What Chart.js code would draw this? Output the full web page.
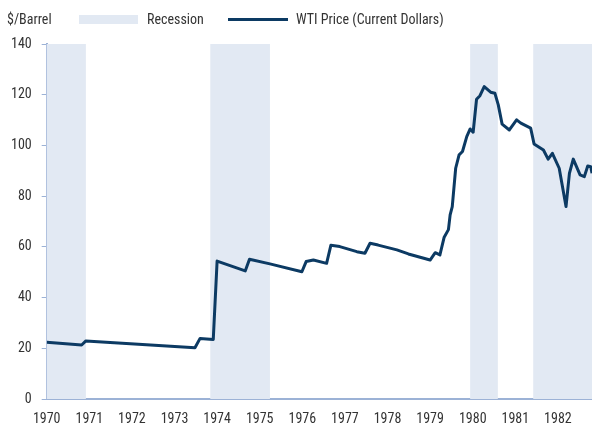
<!DOCTYPE html>
<html>
<head>
<meta charset="utf-8">
<script src="https://cdn.jsdelivr.net/npm/chart.js@4"></script>
<style>
html,body{margin:0;padding:0;background:#fff;}
#wrap{width:592px;height:424px;position:relative;}
</style>
</head>
<body>
<div id="wrap"><canvas id="c" width="592" height="424"></canvas></div>
<script>
const years = [1970.0, 1970.82, 1970.92, 1973.48, 1973.60, 1973.91, 1974.0, 1974.66, 1974.76, 1975.24, 1975.99, 1976.09, 1976.26, 1976.57, 1976.67, 1976.88, 1977.28, 1977.47, 1977.59, 1977.78, 1978.22, 1978.49, 1979.0, 1979.12, 1979.23, 1979.33, 1979.43, 1979.47, 1979.52, 1979.60, 1979.68, 1979.76, 1979.86, 1979.94, 1980.01, 1980.09, 1980.17, 1980.27, 1980.42, 1980.52, 1980.60, 1980.69, 1980.86, 1981.03, 1981.13, 1981.36, 1981.44, 1981.66, 1981.77, 1981.87, 1982.03, 1982.19, 1982.27, 1982.36, 1982.52, 1982.62, 1982.70, 1982.77, 1982.80];
const wtiPrice = [22.4, 21.3, 22.9, 20.2, 23.9, 23.5, 54.4, 50.5, 55.1, 53.3, 50.2, 54.2, 54.8, 53.5, 60.6, 60.1, 58.1, 57.5, 61.4, 60.7, 58.8, 57.2, 54.8, 57.7, 56.8, 63.8, 66.8, 72.6, 75.9, 91.0, 96.3, 97.6, 103.5, 106.5, 105.2, 118.2, 119.6, 123.2, 121.0, 120.6, 116.0, 108.4, 106.1, 110.1, 108.8, 106.8, 100.6, 98.2, 94.6, 96.9, 91.0, 75.9, 89.0, 94.6, 88.4, 87.7, 91.9, 91.6, 89.0];
const recessionStart = [1969.92, 1973.84, 1979.94, 1981.42];
const recessionEnd = [1970.92, 1975.24, 1980.59, 1982.80];
const yTicks = [0, 20, 40, 60, 80, 100, 120, 140];
const xTicks = [1970, 1971, 1972, 1973, 1974, 1975, 1976, 1977, 1978, 1979, 1980, 1981, 1982];
const unitLabel = '$/Barrel';
const recessionLabel = 'Recession';
const seriesLabel = 'WTI Price (Current Dollars)';

const FONT = '"Liberation Sans Narrow", "Roboto Condensed", "Arial Narrow", Roboto, sans-serif';
const TEXT = '#333333';
const NAVY = '#0c3a63';
const BAND = '#e2e9f3';
const AXIS = '#9cb2d6';

const recessionPlugin = {
  id: 'recessions',
  beforeDatasetsDraw(chart) {
    const {ctx, chartArea, scales} = chart;
    ctx.save();
    ctx.fillStyle = BAND;
    for (let i = 0; i < recessionStart.length; i++) {
      const x0 = Math.max(scales.x.getPixelForValue(recessionStart[i]), chartArea.left);
      const x1 = Math.min(scales.x.getPixelForValue(recessionEnd[i]), chartArea.right);
      ctx.fillRect(x0, chartArea.top, x1 - x0, chartArea.bottom - chartArea.top);
    }
    ctx.restore();
  }
};

const legendPlugin = {
  id: 'customLegend',
  afterDraw(chart) {
    const ctx = chart.ctx;
    ctx.save();
    ctx.font = '14px ' + FONT;
    ctx.fillStyle = TEXT;
    ctx.textBaseline = 'middle';
    ctx.textAlign = 'left';
    ctx.fillText(unitLabel, 7, 20);
    ctx.fillStyle = BAND;
    ctx.fillRect(79, 15, 59, 9);
    ctx.fillStyle = TEXT;
    ctx.fillText(recessionLabel, 147, 20);
    ctx.strokeStyle = NAVY;
    ctx.lineWidth = 3;
    ctx.beginPath();
    ctx.moveTo(228, 19.5);
    ctx.lineTo(288, 19.5);
    ctx.stroke();
    ctx.fillText(seriesLabel, 296, 20);
    ctx.restore();
  }
};

new Chart(document.getElementById('c'), {
  type: 'line',
  data: {
    datasets: [{
      label: seriesLabel,
      data: years.map((x, i) => ({x: x, y: wtiPrice[i]})),
      borderColor: NAVY,
      borderWidth: 3,
      pointRadius: 0,
      tension: 0,
      fill: false,
      borderJoinStyle: 'round'
    }]
  },
  options: {
    responsive: false,
    animation: false,
    events: [],
    layout: {padding: {top: 44, right: 0, left: 0, bottom: 0}},
    plugins: {legend: {display: false}, tooltip: {enabled: false}},
    scales: {
      x: {
        type: 'linear',
        min: 1970,
        max: 1982.8,
        afterBuildTicks(scale) { scale.ticks = xTicks.map(v => ({value: v})); },
        afterFit(scale) { scale.height = 25; },
        grid: {display: false},
        border: {display: true, color: AXIS, width: 2},
        ticks: {
          font: {family: FONT, size: 14},
          color: TEXT,
          padding: 4,
          maxRotation: 0,
          autoSkip: false,
          callback: v => String(v)
        }
      },
      y: {
        min: 0,
        max: 140,
        afterBuildTicks(scale) { scale.ticks = yTicks.map(v => ({value: v})); },
        afterFit(scale) { scale.width = 46.7; },
        grid: {drawOnChartArea: false, color: AXIS, tickLength: 5, lineWidth: 1},
        border: {display: true, color: AXIS, width: 2},
        ticks: {
          font: {family: FONT, size: 14},
          color: TEXT,
          padding: 10,
          callback: v => String(v)
        }
      }
    }
  },
  plugins: [recessionPlugin, legendPlugin]
});
</script>
</body>
</html>
